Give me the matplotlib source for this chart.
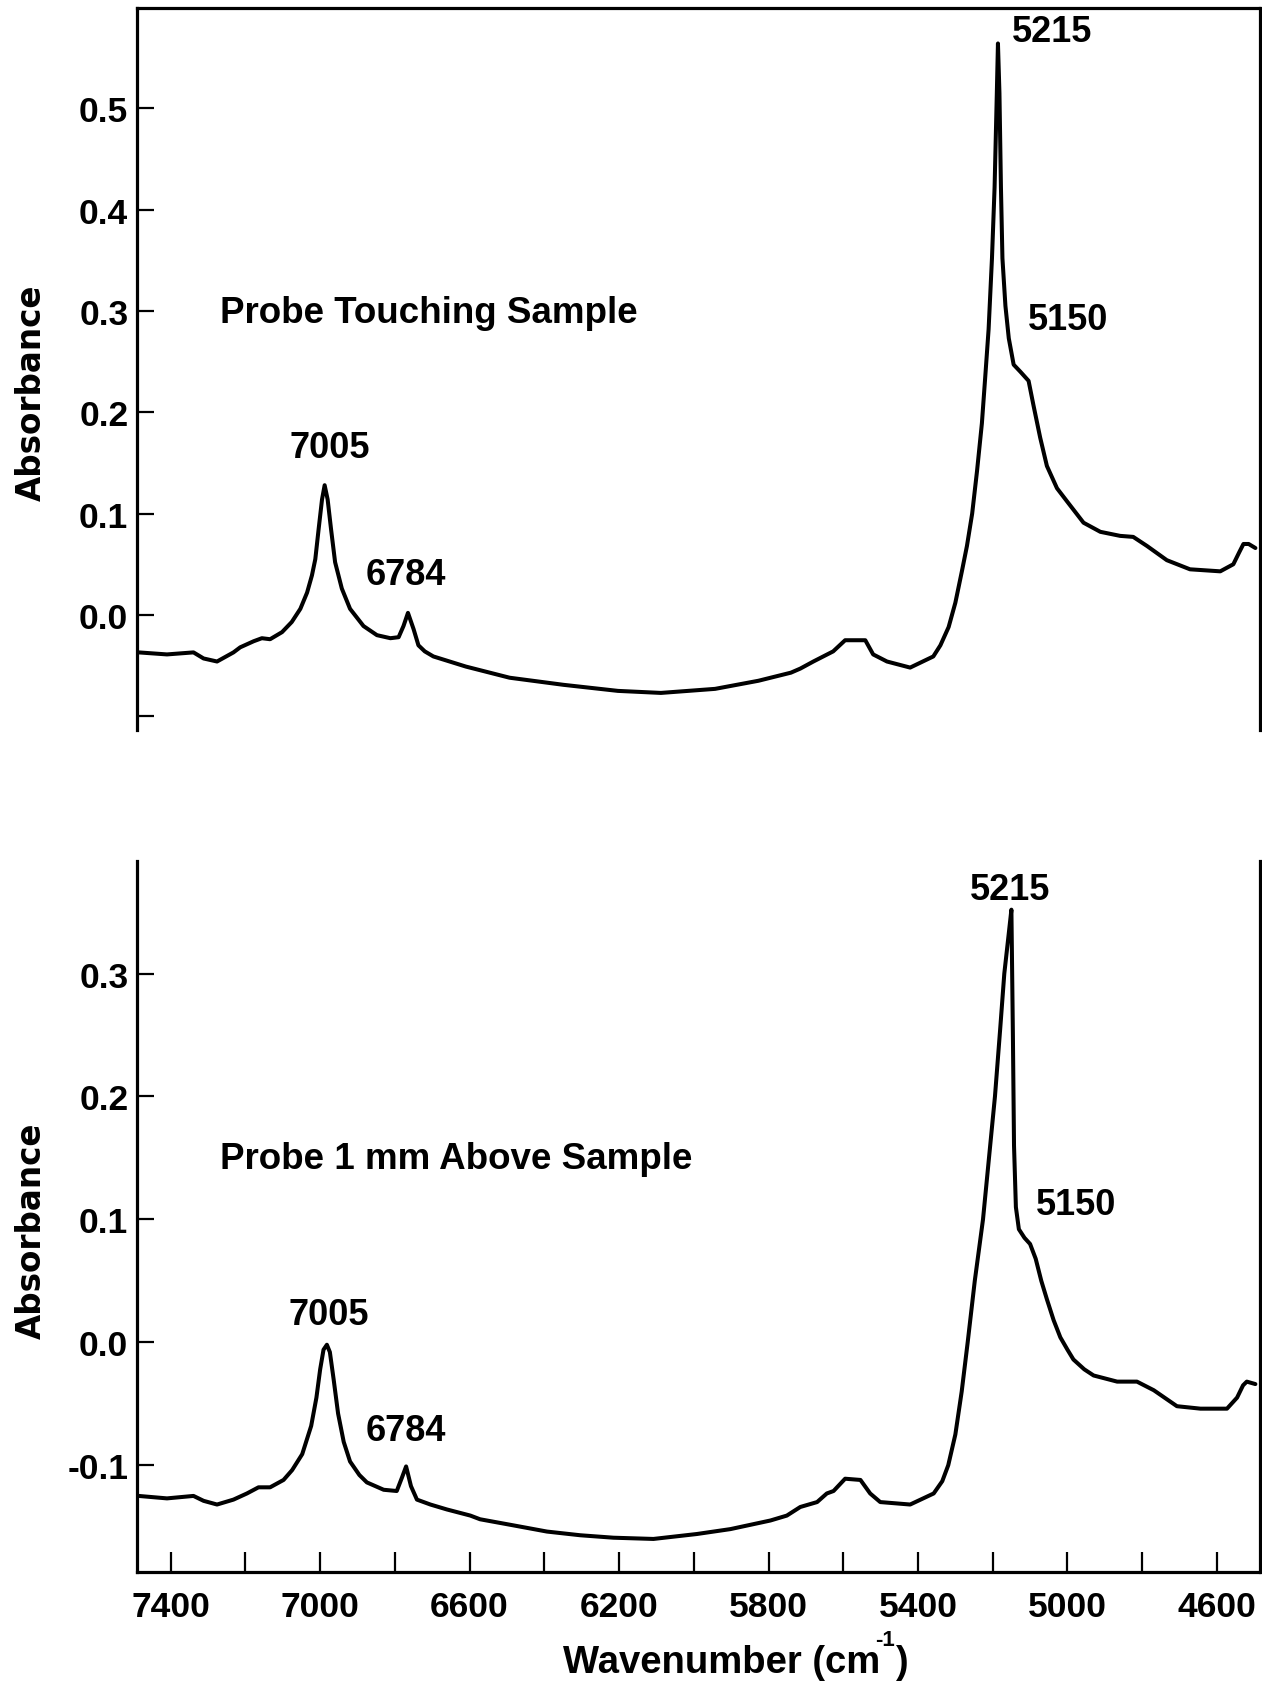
import matplotlib
matplotlib.use("Agg")
import matplotlib.pyplot as plt

plt.rcParams['font.family'] = ['Liberation Sans', 'DejaVu Sans']
plt.rcParams['font.weight'] = 'bold'
plt.rcParams['axes.unicode_minus'] = False

# ---------------- data ----------------
top_wn = [7486, 7410, 7339, 7312, 7276, 7232, 7214, 7178, 7156, 7134, 7102, 7076,
          7053, 7035, 7022, 7013, 7004, 6995, 6988, 6980, 6971, 6960, 6942, 6920,
          6884, 6848, 6812, 6790, 6777, 6765, 6750, 6737, 6720, 6697, 6610, 6493,
          6349, 6203, 6088, 5943, 5827, 5740, 5715, 5680, 5627, 5595, 5541, 5520,
          5483, 5421, 5359, 5340, 5318, 5300, 5282, 5269, 5255, 5242, 5229, 5220,
          5211, 5202, 5195, 5189, 5186, 5182, 5178, 5174, 5166, 5157, 5144, 5126,
          5104, 5091, 5073, 5055, 5028, 5001, 4957, 4912, 4859, 4824, 4787, 4734,
          4672, 4591, 4556, 4540, 4529, 4515, 4497]
top_abs = [-0.037, -0.039, -0.037, -0.043, -0.046, -0.037, -0.032, -0.026, -0.023, -0.024, -0.017, -0.007,
           0.006, 0.022, 0.039, 0.055, 0.085, 0.114, 0.128, 0.114, 0.085, 0.052, 0.026, 0.006,
           -0.011, -0.020, -0.023, -0.022, -0.011, 0.002, -0.014, -0.030, -0.036, -0.041, -0.051, -0.062,
           -0.069, -0.075, -0.077, -0.073, -0.065, -0.057, -0.053, -0.046, -0.036, -0.025, -0.025, -0.039,
           -0.046, -0.052, -0.041, -0.030, -0.012, 0.012, 0.044, 0.068, 0.100, 0.142, 0.189, 0.235,
           0.282, 0.352, 0.422, 0.515, 0.564, 0.515, 0.422, 0.352, 0.305, 0.273, 0.247, 0.240,
           0.231, 0.207, 0.175, 0.147, 0.125, 0.112, 0.091, 0.082, 0.078, 0.077, 0.068, 0.054,
           0.045, 0.043, 0.050, 0.062, 0.070, 0.070, 0.066]

bot_wn = [7486, 7410, 7339, 7312, 7276, 7232, 7196, 7165, 7134, 7098, 7075, 7048,
          7024, 7010, 7000, 6991, 6982, 6974, 6964, 6952, 6937, 6920, 6895, 6875,
          6830, 6795, 6781, 6770, 6757, 6741, 6705, 6661, 6598, 6572, 6482, 6393,
          6304, 6215, 6108, 5992, 5902, 5795, 5751, 5715, 5670, 5644, 5626, 5595,
          5554, 5528, 5501, 5421, 5358, 5335, 5319, 5300, 5283, 5267, 5248, 5226,
          5210, 5194, 5180, 5169, 5158, 5150, 5146, 5143, 5138, 5130, 5115, 5100,
          5085, 5070, 5055, 5037, 5019, 5000, 4984, 4955, 4930, 4867, 4814, 4769,
          4707, 4644, 4573, 4546, 4530, 4520, 4497]
bot_abs = [-0.125, -0.127, -0.125, -0.129, -0.132, -0.128, -0.123, -0.118, -0.118, -0.112, -0.104, -0.091,
           -0.068, -0.045, -0.022, -0.006, -0.002, -0.008, -0.030, -0.058, -0.081, -0.097, -0.108, -0.114,
           -0.120, -0.121, -0.110, -0.101, -0.117, -0.128, -0.132, -0.136, -0.141, -0.144, -0.149, -0.154,
           -0.157, -0.159, -0.160, -0.156, -0.152, -0.145, -0.141, -0.134, -0.130, -0.123, -0.121, -0.111,
           -0.112, -0.123, -0.130, -0.132, -0.123, -0.113, -0.100, -0.075, -0.040, 0.000, 0.050, 0.100,
           0.150, 0.200, 0.255, 0.300, 0.330, 0.352, 0.250, 0.160, 0.110, 0.092, 0.085, 0.080,
           0.068, 0.050, 0.035, 0.018, 0.004, -0.006, -0.014, -0.022, -0.027, -0.032, -0.032, -0.039,
           -0.052, -0.054, -0.054, -0.045, -0.035, -0.032, -0.034]

top_yticks = [-0.1, 0.0, 0.1, 0.2, 0.3, 0.4, 0.5]
top_yticklabels = ['', '0.0', '0.1', '0.2', '0.3', '0.4', '0.5']
bot_yticks = [-0.1, 0.0, 0.1, 0.2, 0.3]
bot_yticklabels = ['-0.1', '0.0', '0.1', '0.2', '0.3']
xticks = [7400, 7200, 7000, 6800, 6600, 6400, 6200, 6000, 5800, 5600, 5400, 5200, 5000, 4800, 4600]
xticklabels = ['7400', '', '7000', '', '6600', '', '6200', '', '5800', '', '5400', '', '5000', '', '4600']

top_title = 'Probe Touching Sample'
bot_title = 'Probe 1 mm Above Sample'
top_peaks = [('5215', 5041, 0.566), ('5150', 4997, 0.282), ('7005', 6973, 0.156), ('6784', 6770, 0.0305)]
bot_peaks = [('5215', 5153, 0.3605), ('5150', 4977, 0.1044), ('7005', 6978, 0.0149), ('6784', 6770, -0.0791)]

# ---------------- figure ----------------
W, H = 1262, 1699
fig = plt.figure(figsize=(W / 100, H / 100), dpi=100)

left = 136.7 / W
right = 1259.5 / W
ax1 = fig.add_axes([left, 1 - 731 / H, right - left, (731 - 9) / H])
ax2 = fig.add_axes([left, 1 - 1573 / H, right - left, (1573 - 862) / H])

XLIM = (7491, 4486)
LW = 2.9
FS = 25.5

for ax in (ax1, ax2):
    ax.set_xlim(*XLIM)
    for s in ax.spines.values():
        s.set_linewidth(2.3)
    ax.tick_params(axis='y', which='both', direction='in', length=12, width=1.6,
                   pad=6, labelsize=FS, left=True, right=False)

ax1.plot(top_wn, top_abs, color='black', lw=LW, solid_joinstyle='round', solid_capstyle='round')
ax2.plot(bot_wn, bot_abs, color='black', lw=LW, solid_joinstyle='round', solid_capstyle='round')

ax1.set_ylim(-0.1136, 0.599)
ax2.set_ylim(-0.1869, 0.3916)

ax1.spines['bottom'].set_visible(False)
ax2.spines['top'].set_visible(False)

ax1.set_yticks(top_yticks)
ax1.set_yticklabels(top_yticklabels)
ax2.set_yticks(bot_yticks)
ax2.set_yticklabels(bot_yticklabels)

ax1.set_xticks([])
ax2.set_xticks(xticks)
ax2.set_xticklabels(xticklabels)
ax2.tick_params(axis='x', direction='in', length=14.5, width=1.6, pad=13, labelsize=FS,
                top=False, bottom=True)

for lab in ax1.get_yticklabels() + ax2.get_yticklabels() + ax2.get_xticklabels():
    lab.set_fontweight('bold')

ax1.text(7267, 0.2888, top_title, fontsize=26.5, fontweight='bold', ha='left', va='baseline')
ax2.text(7267, 0.142, bot_title, fontsize=26.5, fontweight='bold', ha='left', va='baseline')
for txt, xw, yv in top_peaks:
    ax1.text(xw, yv, txt, fontsize=26, fontweight='bold', ha='center', va='baseline')
for txt, xw, yv in bot_peaks:
    ax2.text(xw, yv, txt, fontsize=26, fontweight='bold', ha='center', va='baseline')

# axis labels
for yc in (393, 1231):
    fig.text(31 / W, 1 - yc / H, 'Absorbance', rotation=90, ha='center', va='center',
             fontsize=23.5, fontweight='bold', family=['DejaVu Sans'])

# x label composed of main text + superscript "-1" + ")"
renderer = fig.canvas.get_renderer()
x0_px = 563.0
base_px = 1673.0
t_main = fig.text(x0_px / W, 1 - base_px / H, 'Wavenumber (cm', ha='left', va='baseline',
                  fontsize=27.5, fontweight='bold')
bb = t_main.get_window_extent(renderer)
x_sup = bb.x1 - 5
t_sup = fig.text(x_sup / W, 1 - (base_px - 27) / H, '-1', ha='left', va='baseline',
                 fontsize=16, fontweight='bold')
bb2 = t_sup.get_window_extent(renderer)
fig.text((bb2.x1 + 1) / W, 1 - base_px / H, ')', ha='left', va='baseline',
         fontsize=27.5, fontweight='bold')

fig.savefig('out.png', dpi=100)
